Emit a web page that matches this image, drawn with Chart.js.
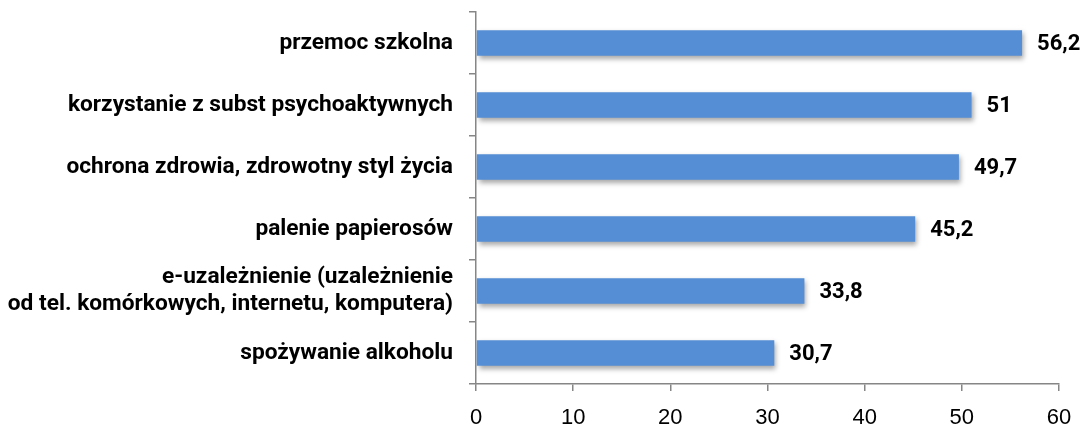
<!DOCTYPE html>
<html>
<head>
<meta charset="utf-8">
<script src="https://cdn.jsdelivr.net/npm/chart.js@4"></script>
<style>
  html, body { margin: 0; padding: 0; background: #fff; }
  #wrap { width: 1080px; height: 426px; }
</style>
</head>
<body>
<div id="wrap"><canvas id="myChart" width="1080" height="426"></canvas></div>
<script>
// dane z wykresu
const categories = [
    'przemoc szkolna',
    'korzystanie z subst psychoaktywnych',
    'ochrona zdrowia, zdrowotny styl życia',
    'palenie papierosów',
    ['e-uzależnienie (uzależnienie', 'od tel. komórkowych, internetu, komputera)'],
    'spożywanie alkoholu'
];
const values = [56.2, 51, 49.7, 45.2, 33.8, 30.7];
const valueLabels = ['56,2', '51', '49,7', '45,2', '33,8', '30,7'];
const xTicks = [0, 10, 20, 30, 40, 50, 60];

const axisGrey = '#868686';

// cien pod slupkami
const barShadow = {
    id: 'barShadow',
    beforeDatasetsDraw(chart) {
        const ctx = chart.ctx;
        ctx.save();
        ctx.shadowColor = 'rgba(0,0,0,0.35)';
        ctx.shadowBlur = 5;
        ctx.shadowOffsetX = 2;
        ctx.shadowOffsetY = 3;
    },
    afterDatasetsDraw(chart) {
        chart.ctx.restore();
    }
};

// etykiety wartosci
const valueText = {
    id: 'valueText',
    afterDatasetsDraw(chart) {
        const ctx = chart.ctx;
        const meta = chart.getDatasetMeta(0);
        ctx.save();
        ctx.fillStyle = '#000';
        ctx.font = 'bold 22px Roboto, "Liberation Sans", Arial, sans-serif';
        ctx.textAlign = 'left';
        ctx.textBaseline = 'middle';
        meta.data.forEach((bar, i) => {
            ctx.fillText(valueLabels[i], bar.x + 15, bar.y + 1);
        });
        ctx.restore();
    }
};

new Chart(document.getElementById('myChart'), {
    type: 'bar',
    data: {
        labels: categories,
        datasets: [{
            data: values,
            backgroundColor: '#558ED5',
            borderWidth: 0,
            barPercentage: 0.41,
            categoryPercentage: 1
        }]
    },
    options: {
        indexAxis: 'y',
        responsive: false,
        animation: false,
        layout: { padding: { top: 12, right: 21, left: 0, bottom: 0 } },
        plugins: {
            legend: { display: false },
            tooltip: { enabled: false }
        },
        scales: {
            x: {
                min: 0,
                max: 60,
                afterBuildTicks: s => { s.ticks = xTicks.map(v => ({ value: v })); },
                afterFit: s => { s.height = 42; s.paddingLeft = 0; s.paddingRight = 0; },
                grid: { drawOnChartArea: false, drawTicks: true, tickLength: 7, color: axisGrey, lineWidth: 1.5 },
                border: { display: true, color: axisGrey, width: 1.5 },
                ticks: {
                    color: '#000',
                    padding: 14,
                    font: { family: '"Liberation Sans", Arial, sans-serif', size: 22 }
                }
            },
            y: {
                afterFit: s => { s.width = 476; s.paddingTop = 0; s.paddingBottom = 0; },
                grid: { drawOnChartArea: false, drawTicks: true, tickLength: 7, color: axisGrey, lineWidth: 1.5, offset: true },
                border: { display: true, color: axisGrey, width: 1.5 },
                ticks: {
                    color: '#000',
                    padding: 16,
                    font: { family: 'Roboto, "Liberation Sans", Arial, sans-serif', size: 22.7, weight: 'bold', lineHeight: 1.2 }
                }
            }
        }
    },
    plugins: [barShadow, valueText]
});
</script>
</body>
</html>
